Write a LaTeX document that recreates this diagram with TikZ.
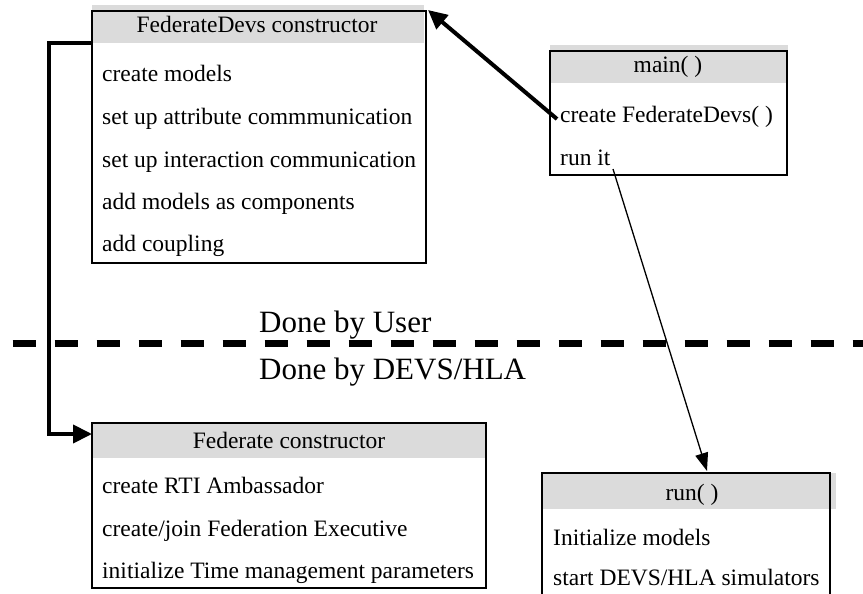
\documentclass[tikz,border=0pt]{standalone}
\usepackage{fontspec}
\setmainfont{Liberation Serif}
\usetikzlibrary{arrows.meta}
\begin{document}
\begin{tikzpicture}[x=1pt,y=-1pt,
  boxst/.style={draw, line width=2pt, anchor=north west, inner sep=0pt, outer sep=0pt},
  hdr/.style={fill=black!14},
  txt/.style={font=\fontsize{23.5}{28}\selectfont, inner sep=0pt, anchor=base west},
  htxt/.style={font=\fontsize{23.5}{28}\selectfont, inner sep=0pt, anchor=base},
  big/.style={font=\fontsize{31}{37}\selectfont, inner sep=0pt, anchor=base west},
  heavy/.style={line width=4pt, -{Triangle[length=19pt,width=18pt]}},
  light/.style={line width=1.3pt, -{Triangle[length=18pt,width=13pt]}},
  divider/.style={line width=6.5pt, dash pattern=on 23pt off 19pt}]
\clip (0,0) rectangle (863,594);
\fill[white] (0,0) rectangle (863,594);
% headers
\fill[hdr] (92,5) rectangle (424,43);
\fill[hdr] (550,45) rectangle (788,83);
\fill[hdr] (542,473) rectangle (836,509);
\fill[hdr] (92,423) rectangle (486,458);
% boxes
\node[boxst, minimum width=334pt, minimum height=252pt] (fd) at (92,11) {};
\node[boxst, minimum width=237pt, minimum height=124pt] (mn) at (550,51) {};
\node[boxst, minimum width=288pt, minimum height=140pt] (rn) at (542,473) {};
\node[boxst, minimum width=394pt, minimum height=165pt] (fc) at (92,423) {};
% FederateDevs constructor
\node[htxt] (fdh) at (257,33) {FederateDevs constructor};
\node[txt] (fd1) at (102,82) {create models};
\node[txt] (fd2) at (102,124.5) {set up attribute commmunication};
\node[txt] (fd3) at (102,167) {set up interaction communication};
\node[txt] (fd4) at (102,209) {add models as components};
\node[txt] (fd5) at (102,251.5) {add coupling};
% main
\node[htxt] (mnh) at (668,73) {main( )};
\node[txt] (mn1) at (560,123) {create FederateDevs( )};
\node[txt] (mn2) at (560,165) {run it};
% run
\node[htxt] (rnh) at (692,500) {run( )};
\node[txt] (rn1) at (553,545) {Initialize models};
\node[txt] (rn2) at (553,585) {start DEVS/HLA simulators};
% Federate constructor
\node[htxt] (fch) at (289,448) {Federate constructor};
\node[txt] (fc1) at (102,493) {create RTI Ambassador};
\node[txt] (fc2) at (102,536) {create/join Federation Executive};
\node[txt] (fc3) at (102,578) {initialize Time management parameters};
% divider
\coordinate (dl) at (12.7,343.5);
\coordinate (dr) at (870,343.5);
\draw[divider] (dl) -- (dr);
\node[big] (user) at (259,332) {Done by User};
\node[big] (devs) at (259,379) {Done by DEVS/HLA};
% connectors
\coordinate (a1) at (557,119);
\coordinate (a2) at (428,10);
\draw[heavy] (a1) -- (a2);
\coordinate (b1) at (613,169);
\coordinate (b2) at (707,471);
\draw[light] (b1) -- (b2);
\coordinate (c1) at (92,43);
\coordinate (c2) at (92,434);
\draw[heavy] (c1) -- (49,43) -- (49,434) -- (c2);
\end{tikzpicture}
\end{document}
